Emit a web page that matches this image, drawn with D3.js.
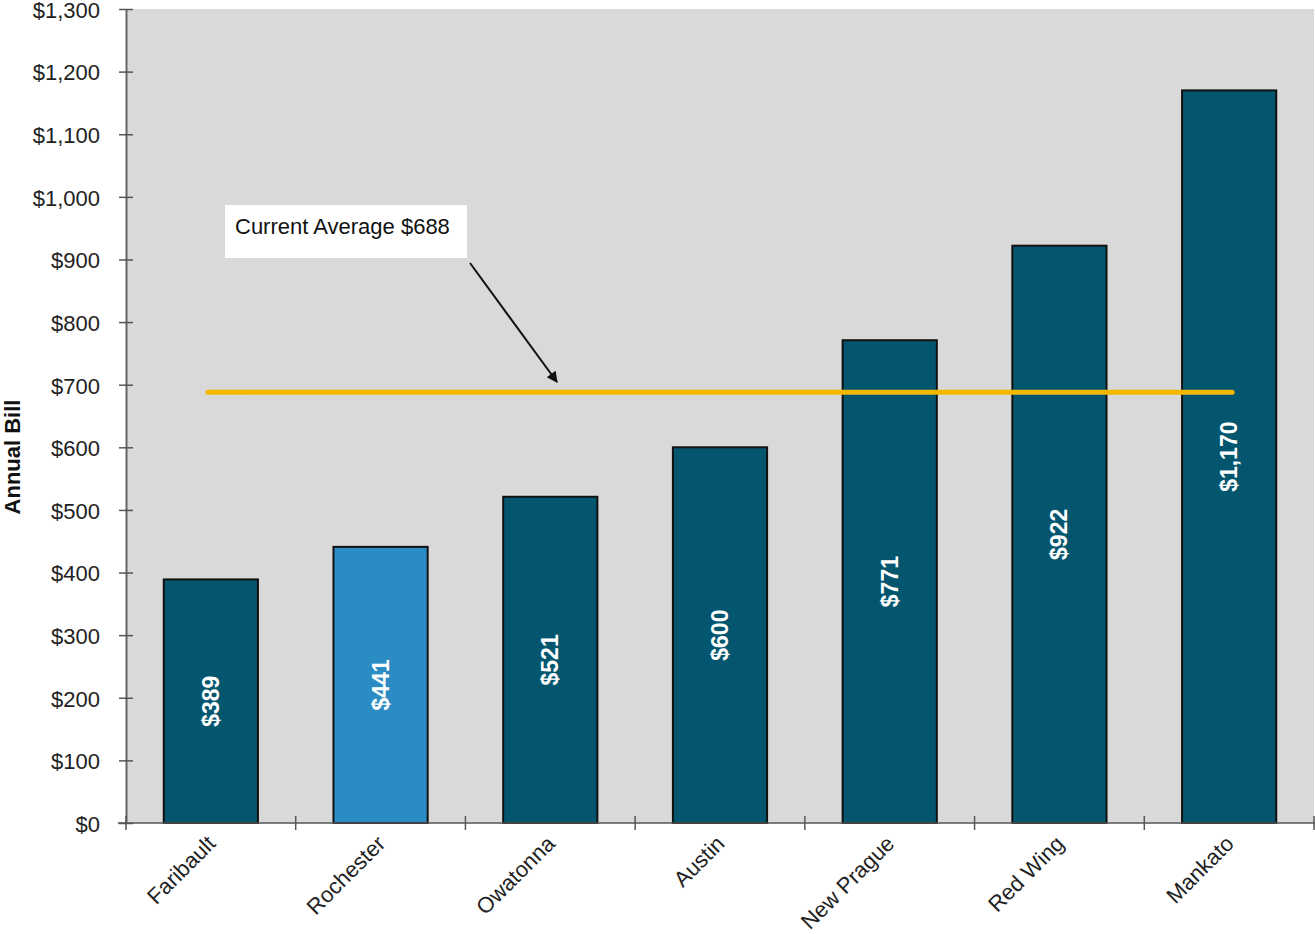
<!DOCTYPE html>
<html>
<head>
<meta charset="utf-8">
<script src="https://cdn.jsdelivr.net/npm/d3@7"></script>
<style>
  html, body { margin: 0; padding: 0; background: #ffffff; }
  svg { display: block; font-family: Arial, "Liberation Sans", sans-serif; }
</style>
</head>
<body>
<svg id="chart" width="1315" height="934"></svg>
<script>
// Annual bill by city
const cities = ["Faribault", "Rochester", "Owatonna", "Austin", "New Prague", "Red Wing", "Mankato"];
const annualBill = [389, 441, 521, 600, 771, 922, 1170];
const highlighted = ["Rochester"];
const averageBill = [688];
const yTicks = [0, 100, 200, 300, 400, 500, 600, 700, 800, 900, 1000, 1100, 1200, 1300];
const annotationText = ["Current Average $688"];

const W = 1315, H = 934;
const margin = { top: 9, right: 1, bottom: 111, left: 126 };
const svg = d3.select("#chart");

const x = d3.scaleBand().domain(cities).range([margin.left, W - margin.right]).padding(0);
const y = d3.scaleLinear().domain([0, 1300]).range([H - margin.bottom, margin.top]);
const barW = x.bandwidth() * 0.555;

const fmt = v => "$" + d3.format(",")(v);

// plot background
svg.append("rect")
  .attr("x", margin.left).attr("y", margin.top)
  .attr("width", W - margin.right - margin.left)
  .attr("height", y(0) - margin.top)
  .attr("fill", "#d9d9d9");

// bars
svg.append("g").selectAll("rect").data(cities).join("rect")
  .attr("x", (d) => x(d) + x.bandwidth() / 2 - barW / 2)
  .attr("y", (d, i) => y(annualBill[i]))
  .attr("width", barW)
  .attr("height", (d, i) => y(0) - y(annualBill[i]))
  .attr("fill", d => highlighted.includes(d) ? "#2b8cc4" : "#04566f")
  .attr("stroke", "#111")
  .attr("stroke-width", 2);

// value labels inside bars
svg.append("g").selectAll("text").data(cities).join("text")
  .attr("transform", (d, i) => {
    const cx = x(d) + x.bandwidth() / 2;
    const cy = (y(annualBill[i]) + y(0)) / 2;
    return `translate(${cx + 8},${cy}) rotate(-90)`;
  })
  .attr("text-anchor", "middle")
  .attr("fill", "#ffffff")
  .attr("font-weight", "bold")
  .attr("font-size", 23)
  .text((d, i) => fmt(annualBill[i]));

// average line
const first = cities[0], last = cities[cities.length - 1];
svg.append("line")
  .attr("x1", x(first) + x.bandwidth() / 2 - 3)
  .attr("x2", x(last) + x.bandwidth() / 2 + 3)
  .attr("y1", y(averageBill[0]))
  .attr("y2", y(averageBill[0]))
  .attr("stroke", "#f5b800")
  .attr("stroke-width", 5)
  .attr("stroke-linecap", "round");

// y axis
const yAxis = svg.append("g")
  .attr("transform", `translate(${margin.left},0)`)
  .call(d3.axisLeft(y).tickValues(yTicks).tickFormat(fmt).tickSize(0).tickPadding(26));
yAxis.select(".domain").attr("stroke", "#666").attr("stroke-width", 2);
yAxis.selectAll(".tick text").attr("font-size", 22).attr("fill", "#222").attr("dy", "0.38em")
  .attr("font-family", "Arial, 'Liberation Sans', sans-serif");
yAxis.selectAll(".tick").append("line")
  .attr("x1", -7).attr("x2", 7).attr("stroke", "#555").attr("stroke-width", 1.5);

// x axis
const xTickPos = cities.map(c => x(c)).concat([x(last) + x.bandwidth()]);
const xAxisG = svg.append("g");
xAxisG.append("line")
  .attr("x1", margin.left - 8).attr("x2", W)
  .attr("y1", y(0)).attr("y2", y(0))
  .attr("stroke", "#555").attr("stroke-width", 1.5);
xAxisG.selectAll("line.tk").data(xTickPos).join("line")
  .attr("class", "tk")
  .attr("x1", d => d).attr("x2", d => d)
  .attr("y1", y(0) - 7).attr("y2", y(0) + 7)
  .attr("stroke", "#555").attr("stroke-width", 1.5);
xAxisG.selectAll("text").data(cities).join("text")
  .attr("transform", d => `translate(${x(d) + x.bandwidth() / 2 + 6},${y(0) + 22}) rotate(-45)`)
  .attr("text-anchor", "end")
  .attr("font-size", 22)
  .attr("fill", "#222")
  .text(d => d);

// y axis title
svg.append("text")
  .attr("transform", `translate(20,457) rotate(-90)`)
  .attr("text-anchor", "middle")
  .attr("font-weight", "bold")
  .attr("font-size", 22)
  .attr("fill", "#111")
  .text("Annual Bill");

// annotation callout
svg.append("rect")
  .attr("x", 225).attr("y", 205).attr("width", 242).attr("height", 53)
  .attr("fill", "#ffffff");
svg.append("text")
  .attr("x", 235).attr("y", 234)
  .attr("font-size", 22)
  .attr("fill", "#111")
  .text(annotationText[0]);

svg.append("defs").append("marker")
  .attr("id", "arrowHead")
  .attr("viewBox", "0 0 10 10")
  .attr("refX", 9).attr("refY", 5)
  .attr("markerWidth", 13).attr("markerHeight", 11)
  .attr("markerUnits", "userSpaceOnUse")
  .attr("orient", "auto")
  .append("path").attr("d", "M0,0 L10,5 L0,10 z").attr("fill", "#111");
svg.append("line")
  .attr("x1", 470).attr("y1", 263)
  .attr("x2", 557).attr("y2", 382)
  .attr("stroke", "#111").attr("stroke-width", 2)
  .attr("marker-end", "url(#arrowHead)");
</script>
</body>
</html>
